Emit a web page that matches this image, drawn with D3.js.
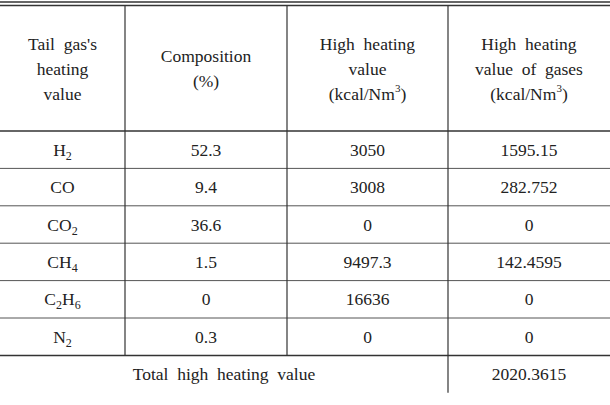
<!DOCTYPE html>
<html><head><meta charset="utf-8">
<script src="https://cdn.jsdelivr.net/npm/d3@7"></script>
<style>body{margin:0;background:#fff} text{font-family:"Liberation Serif","Times New Roman",serif;font-size:17.5px;fill:#222}</style>
</head><body>
<script>
// table data
const headers = [["Tail  gas's","heating","value"],["Composition","(%)"],["High  heating","value","(kcal/Nm³)"],["High  heating","value  of  gases","(kcal/Nm³)"]];
const gases = [["H","2"],["CO",""],["CO","2"],["CH","4"],["C","2","H","6"],["N","2"]];
const composition = ["52.3","9.4","36.6","1.5","0","0.3"];
const heating = ["3050","3008","0","9497.3","16636","0"];
const gasHeatingVals = ["1595.15","282.752","0","142.4595","0","0"];
const totalLabel = "Total  high  heating  value";
const totalValue = "2020.3615";

const W = 610, H = 405;
const svg = d3.select("body").append("svg").attr("width", W).attr("height", H);

const colEdges = [0, 125, 287, 448, 610];
const colMid = i => (colEdges[i] + colEdges[i+1]) / 2;
const headTop = 6, headBot = 131, rowH = 37.4;
const rowY = i => headBot + i * rowH;
const tableBot = rowY(7);
const line = (x1,y1,x2,y2,w,c) => svg.append("line").attr("x1",x1).attr("y1",y1).attr("x2",x2).attr("y2",y2)
  .attr("stroke", c || "#333").attr("stroke-width", w || 1);

// top double rule
line(0, 2, W, 2, 1.5); line(0, 5.5, W, 5.5, 1.5);
line(0, headBot, W, headBot, 1.5);
for (let i = 1; i <= 6; i++) line(0, rowY(i), W, rowY(i), i === 6 ? 1.5 : 1, i === 6 ? "#333" : "#555");
[1, 2].forEach(c => line(colEdges[c], 6, colEdges[c], rowY(6), 1.2));
line(colEdges[3], 6, colEdges[3], tableBot, 1.2);

// header
headers.forEach((h, i) => {
  const lh = 25, y0 = (headTop + headBot) / 2 - (h.length - 1) * lh / 2 + 6;
  h.forEach((t, k) => {
    const tx = svg.append("text").attr("x", colMid(i)).attr("y", y0 + k * lh).attr("text-anchor", "middle")
      .attr("xml:space", "preserve").style("white-space", "pre");
    if (t.includes("³")) {
      tx.append("tspan").text(t.replace("³)", ""));
      tx.append("tspan").attr("dy", -8).style("font-size", "11px").text("3");
      tx.append("tspan").attr("dy", 8).text(")");
    } else tx.text(t);
  });
});

// body
const rowText = (i, col, parts) => {
  const tx = svg.append("text").attr("x", colMid(col)).attr("y", rowY(i) + rowH / 2 + 6);
  tx.attr("text-anchor", "middle");
  if (typeof parts === "string") { tx.text(parts); return; }
  parts.forEach((p, k) => {
    if (!p) return;
    if (k % 2 === 1) tx.append("tspan").attr("dy", 4).style("font-size", "12px").text(p);
    else tx.append("tspan").attr("dy", k ? -4 : 0).text(p);
  });
};
gases.forEach((g, i) => {
  rowText(i, 0, g);
  rowText(i, 1, composition[i]);
  rowText(i, 2, heating[i]);
  rowText(i, 3, gasHeatingVals[i]);
});
svg.append("text").attr("x", colEdges[3] / 2).attr("y", rowY(6) + rowH / 2 + 6).attr("text-anchor", "middle")
  .attr("xml:space", "preserve").style("white-space", "pre").text(totalLabel);
rowText(6, 3, totalValue);
</script>
</body></html>
